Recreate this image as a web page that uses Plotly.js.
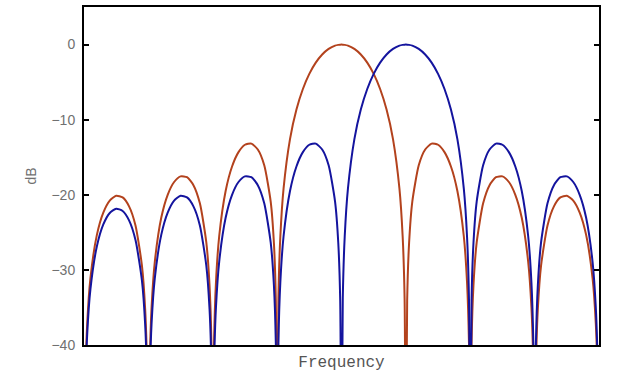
<!DOCTYPE html>
<html><head><meta charset="utf-8">
<script src="https://cdn.plot.ly/plotly-3.0.1.min.js"></script>
<style>html,body{margin:0;padding:0;background:#fff;}#chart{width:622px;height:374px;}</style>
</head><body><div id="chart"></div>
<script>
// Frequency in bin units (0..8), sampled densely near the nulls
const freq = [
 0,0.02,0.05,0.1,0.2,0.3,0.4,0.5,0.6,0.7,0.8,0.9,0.95,0.98,
 1,1.02,1.05,1.1,1.2,1.3,1.4,1.5,1.6,1.7,1.8,1.9,1.95,1.98,
 2,2.02,2.05,2.1,2.2,2.3,2.4,2.5,2.6,2.7,2.8,2.9,2.95,2.98,
 3,3.02,3.05,3.1,3.2,3.3,3.4,3.5,3.6,3.7,3.8,3.9,3.95,3.98,
 4,4.02,4.05,4.1,4.2,4.3,4.4,4.5,4.6,4.7,4.8,4.9,4.95,4.98,
 5,5.02,5.05,5.1,5.2,5.3,5.4,5.5,5.6,5.7,5.8,5.9,5.95,5.98,
 6,6.02,6.05,6.1,6.2,6.3,6.4,6.5,6.6,6.7,6.8,6.9,6.95,6.98,
 7,7.02,7.05,7.1,7.2,7.3,7.4,7.5,7.6,7.7,7.8,7.9,7.95,7.98,
 8
];
// Red (brown) spectrum, peak at bin 4
const redDb = [
 -60,-45.08,-37.10,-31.10,-25.34,-22.37,-20.77,-20.13,-20.35,-21.54,-24.09,-29.43,-35.21,-43.07,
 -60,-42.97,-34.96,-28.92,-23.06,-20.00,-18.30,-17.55,-17.66,-18.72,-21.14,-26.34,-32.05,-39.86,
 -60,-39.70,-31.64,-25.52,-19.49,-16.23,-14.32,-13.34,-13.19,-13.97,-16.07,-20.90,-26.42,-34.10,
 -60,-33.76,-25.56,-19.18,-12.59,-8.66,-5.92,-3.91,-2.41,-1.32,-0.58,-0.14,-0.04,-0.01,
 0,-0.01,-0.04,-0.14,-0.58,-1.32,-2.41,-3.91,-5.92,-8.66,-12.59,-19.18,-25.56,-33.76,
 -60,-34.10,-26.42,-20.90,-16.07,-13.97,-13.19,-13.34,-14.32,-16.23,-19.49,-25.52,-31.64,-39.70,
 -60,-39.86,-32.05,-26.34,-21.14,-18.72,-17.66,-17.55,-18.30,-20.00,-23.06,-28.92,-34.96,-42.97,
 -60,-43.07,-35.21,-29.43,-24.09,-21.54,-20.35,-20.13,-20.77,-22.37,-25.34,-31.10,-37.10,-45.08,
 -60
];
// Blue spectrum, peak at bin 5
const blueDb = [
 -60,-46.49,-38.53,-32.56,-26.86,-23.95,-22.42,-21.85,-22.15,-23.40,-26.02,-31.44,-37.27,-45.15,
 -60,-45.08,-37.10,-31.10,-25.34,-22.37,-20.77,-20.13,-20.35,-21.54,-24.09,-29.43,-35.21,-43.07,
 -60,-42.97,-34.96,-28.92,-23.06,-20.00,-18.30,-17.55,-17.66,-18.72,-21.14,-26.34,-32.05,-39.86,
 -60,-39.70,-31.64,-25.52,-19.49,-16.23,-14.32,-13.34,-13.19,-13.97,-16.07,-20.90,-26.42,-34.10,
 -60,-33.76,-25.56,-19.18,-12.59,-8.66,-5.92,-3.91,-2.41,-1.32,-0.58,-0.14,-0.04,-0.01,
 0,-0.01,-0.04,-0.14,-0.58,-1.32,-2.41,-3.91,-5.92,-8.66,-12.59,-19.18,-25.56,-33.76,
 -60,-34.10,-26.42,-20.90,-16.07,-13.97,-13.19,-13.34,-14.32,-16.23,-19.49,-25.52,-31.64,-39.70,
 -60,-39.86,-32.05,-26.34,-21.14,-18.72,-17.66,-17.55,-18.30,-20.00,-23.06,-28.92,-34.96,-42.97,
 -60
];
const yTickVals = [-40,-30,-20,-10,0];
const yTickText = ['\u221240','\u221230','\u221220','\u221210','0'];
const xTitle = 'Frequency';
const yTitle = 'dB';

const traces = [
 {x: freq, y: redDb, type:'scatter', mode:'lines', line:{color:'#b3421d', width:2, shape:'spline', smoothing:0.6}, hoverinfo:'skip'},
 {x: freq, y: blueDb, type:'scatter', mode:'lines', line:{color:'#14149e', width:2, shape:'spline', smoothing:0.6}, hoverinfo:'skip'}
];
const layout = {
 width:622, height:374,
 margin:{l:84, r:23, t:7, b:29},
 paper_bgcolor:'#fff', plot_bgcolor:'#fff',
 showlegend:false,
 xaxis:{range:[0,8], showgrid:false, zeroline:false, showticklabels:false, ticks:'',
   showline:true, linecolor:'#000', linewidth:2, mirror:true,
   title:{text:xTitle, font:{family:'Liberation Mono, Courier New, monospace', size:16, color:'#555'}, standoff:10}},
 yaxis:{range:[-40,5], showgrid:false, zeroline:false, tickvals:yTickVals, ticktext:yTickText,
   ticks:'inside', ticklen:5, tickwidth:2, tickcolor:'#000', ticklabelstandoff:4,
   showline:true, linecolor:'#000', linewidth:2, mirror:'ticks',
   tickfont:{family:'Liberation Sans, Arial, sans-serif', size:14, color:'#707070'},
   title:{text:yTitle, font:{family:'Liberation Sans, Arial, sans-serif', size:14, color:'#707070'}, standoff:12}}
};
Plotly.newPlot('chart', traces, layout, {staticPlot:true, displayModeBar:false});
</script></body></html>
